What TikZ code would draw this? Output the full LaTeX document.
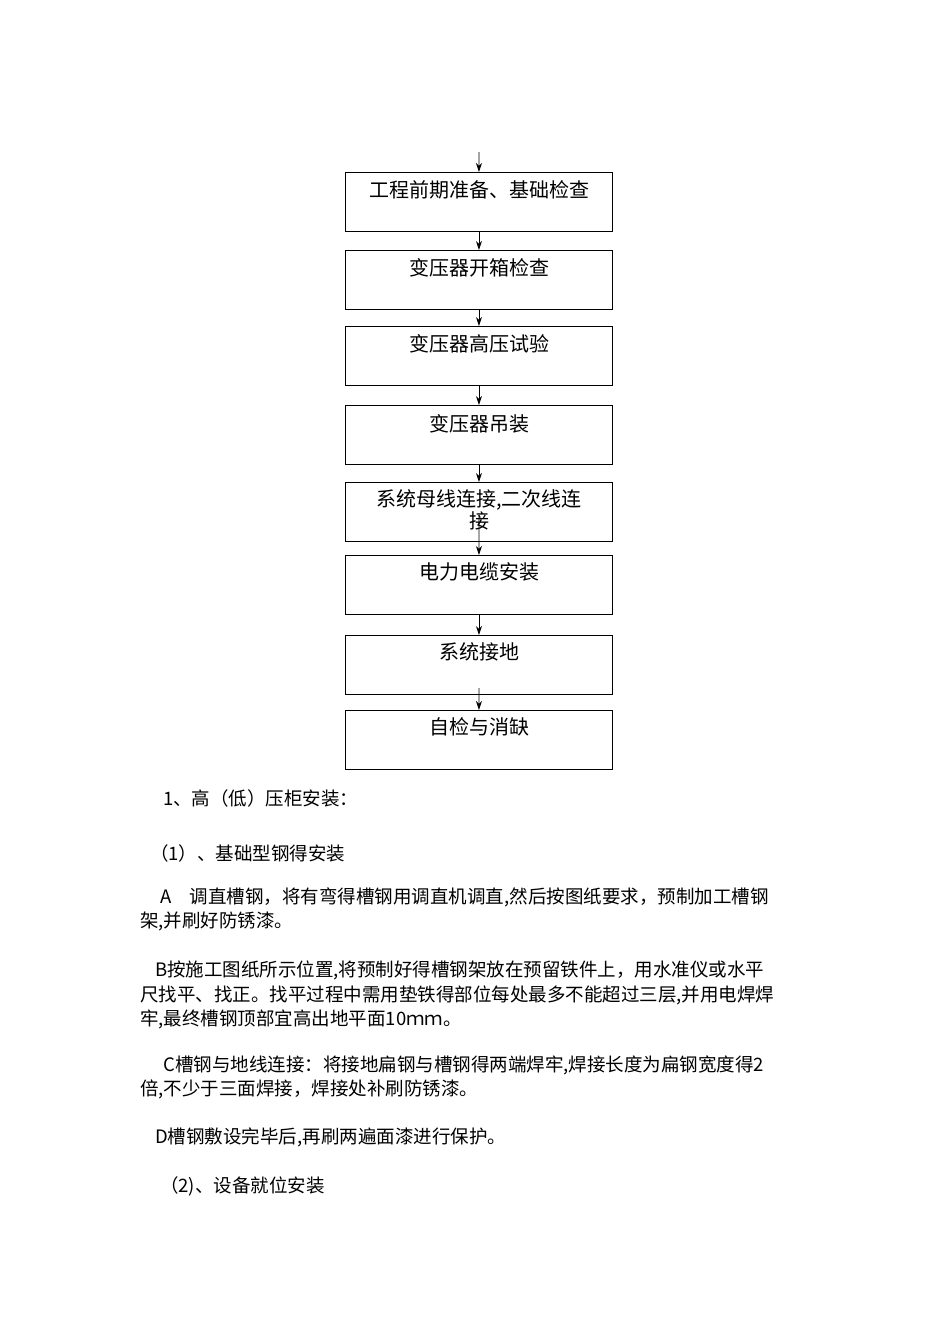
\documentclass[tikz,border=0pt]{standalone}
\usepackage{fontspec}
\setmainfont{Noto Sans CJK SC}
\usetikzlibrary{arrows.meta}
\begin{document}
\begin{tikzpicture}[x=1pt,y=-1pt,
  stepbox/.style={draw,line width=0.9pt,minimum width=267pt,minimum height=59pt,anchor=north west},
  lbl/.style={font=\fontsize{20}{22}\selectfont,inner sep=0pt},
  arr/.style={-{Stealth[length=9pt,width=6pt]},line width=0.8pt},
  para/.style={anchor=west,inner sep=0pt,font=\fontsize{18.5}{20}\selectfont}]
\useasboundingbox (0,0) rectangle (950,1344);
\foreach \n/\y in {1/172,2/250,3/326,4/405,5/482,6/555,7/635,8/710}{
  \node[stepbox] (b\n) at (345,\y) {};
}
\node[lbl] (t1) at (479,190) {工程前期准备、基础检查};
\node[lbl] (t2) at (479,268) {变压器开箱检查};
\node[lbl] (t3) at (479,344) {变压器高压试验};
\node[lbl] (t4) at (479,424) {变压器吊装};
\node[lbl,align=center] (t5) at (479,510) {系统母线连接,二次线连\\接};
\node[lbl] (t6) at (479,572) {电力电缆安装};
\node[lbl] (t7) at (479,652) {系统接地};
\node[lbl] (t8) at (479,727) {自检与消缺};
\coordinate (s0) at (479,152);
\draw[arr] (s0) -- (b1.north);
\draw[arr] (b1.south) -- (b2.north);
\draw[arr] (b2.south) -- (b3.north);
\draw[arr] (b3.south) -- (b4.north);
\draw[arr] (b4.south) -- (b5.north);
\coordinate (s5) at (479,515);
\draw[arr] (s5) -- (b6.north);
\draw[arr] (b6.south) -- (b7.north);
\coordinate (s7) at (479,688);
\draw[arr] (s7) -- (b8.north);
\node[para] (p1) at (163,798) {1、高（低）压柜安装：};
\node[para] (p2) at (150,853) {（1）、基础型钢得安装};
\node[para] (p3) at (160,897) {A\quad 调直槽钢，将有弯得槽钢用调直机调直,然后按图纸要求，预制加工槽钢};
\node[para] (p4) at (140,921) {架,并刷好防锈漆。};
\node[para] (p5) at (155,970) {B按施工图纸所示位置,将预制好得槽钢架放在预留铁件上，用水准仪或水平};
\node[para] (p6) at (140,995) {尺找平、找正。找平过程中需用垫铁得部位每处最多不能超过三层,并用电焊焊};
\node[para] (p7) at (140,1019) {牢,最终槽钢顶部宜高出地平面10ｍｍ。};
\node[para] (p8) at (163,1065) {C槽钢与地线连接：将接地扁钢与槽钢得两端焊牢,焊接长度为扁钢宽度得2};
\node[para] (p9) at (140,1089) {倍,不少于三面焊接，焊接处补刷防锈漆。};
\node[para] (p10) at (155,1137) {D槽钢敷设完毕后,再刷两遍面漆进行保护。};
\node[para] (p11) at (160,1186) {（2)、设备就位安装};
\end{tikzpicture}
\end{document}
